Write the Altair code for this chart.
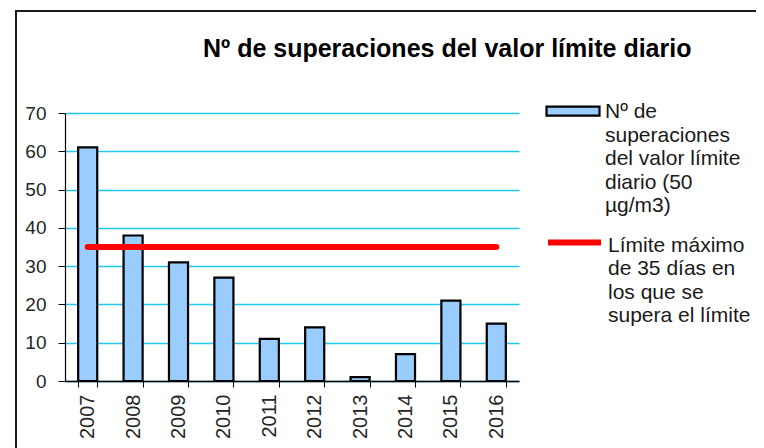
import altair as alt
import pandas as pd

years = ["2007", "2008", "2009", "2010", "2011", "2012", "2013", "2014", "2015", "2016"]
exceedances = [61, 38, 31, 27, 11, 14, 1, 7, 21, 15]
limit_values = [35, 35, 35, 35, 35, 35, 35, 35, 35, 35]

bar_series = "Nº de|superaciones|del valor límite|diario (50|µg/m3)"
line_series = "Límite máximo|de 35 días en|los que se|supera el límite"
title_text = "Nº de superaciones del valor límite diario"

FONT = "Liberation Sans"

bars_df = pd.DataFrame({"year": years, "value": exceedances, "series": [bar_series] * len(years)})
line_df = pd.DataFrame({"year": years, "value": limit_values, "series": [line_series] * len(years)})

x_enc = alt.X(
    "year:N",
    title=None,
    scale=alt.Scale(paddingInner=0.58, paddingOuter=0.29),
    axis=alt.Axis(
        labelAngle=-90, labelFontSize=20, labelFont=FONT, labelColor="#262626",
        labelPadding=7, tickBand="extent", tickSize=6, tickColor="#000000",
        domainColor="#000000", domainWidth=1.5, grid=False, labelOverlap=False,
    ),
)
y_enc = alt.Y(
    "value:Q",
    title=None,
    scale=alt.Scale(domain=[0, 70], nice=False),
    axis=alt.Axis(
        values=[0, 10, 20, 30, 40, 50, 60, 70], labelFontSize=19, labelFont=FONT,
        labelColor="#262626", tickSize=7, labelPadding=12, tickColor="#000000",
        domainColor="#000000", domainWidth=1.2, gridColor="#22C8F5", gridWidth=1.3,
        labelOverlap=False,
    ),
)

legend_common = dict(
    orient="none", title=None, labelFontSize=21, labelFont=FONT, labelColor="#1a1a1a",
    labelLimit=400, labelOffset=4, labelExpr="split(datum.label, '|')",
    labelBaseline="top",
)

bars = alt.Chart(bars_df).mark_bar(stroke="#000000", strokeWidth=2.2).encode(
    x=x_enc,
    y=y_enc,
    fill=alt.Fill(
        "series:N",
        scale=alt.Scale(domain=[bar_series], range=["#99CCFF"]),
        legend=alt.Legend(
            legendX=480, legendY=-40,
            symbolType="M-1,0.21L1,0.21L1,0.55L-1,0.55Z", symbolSize=2809,
            symbolStrokeColor="#000000", symbolStrokeWidth=2.2,
            **legend_common,
        ),
    ),
)

line = alt.Chart(line_df).mark_line(strokeWidth=6, strokeCap="round").encode(
    x=x_enc,
    y=y_enc,
    stroke=alt.Stroke(
        "series:N",
        scale=alt.Scale(domain=[line_series], range=["#FF0000"]),
        legend=alt.Legend(
            legendX=480, legendY=92,
            symbolType="M-1,0.3L1,0.3", symbolSize=2809, symbolStrokeWidth=6,
            **legend_common,
        ),
    ),
)

frame = alt.Chart(pd.DataFrame({"f": [0]})).mark_rect(
    filled=False, stroke="#1a1a1a", strokeWidth=2
).encode(
    x=alt.value(-49), x2=alt.value(900), y=alt.value(-102), y2=alt.value(700)
)

chart = alt.layer(bars, line, frame).resolve_scale(fill="independent", stroke="independent").properties(
    width=454,
    height=268,
    autosize=alt.AutoSizeParams(type="none"),
    padding={"left": 57, "top": 105, "right": 237, "bottom": 67},
    title=alt.TitleParams(
        text=title_text, font=FONT, fontSize=25, fontWeight="bold", color="#000000",
        anchor="start", dx=138, offset=0, dy=72, baseline="alphabetic", frame="group",
    ),
).configure(style={"guide-label": {"lineHeight": 23.5}}).configure_view(stroke="transparent", strokeWidth=0)

chart.save("out.html", embed_options={"renderer": "svg", "actions": False})
